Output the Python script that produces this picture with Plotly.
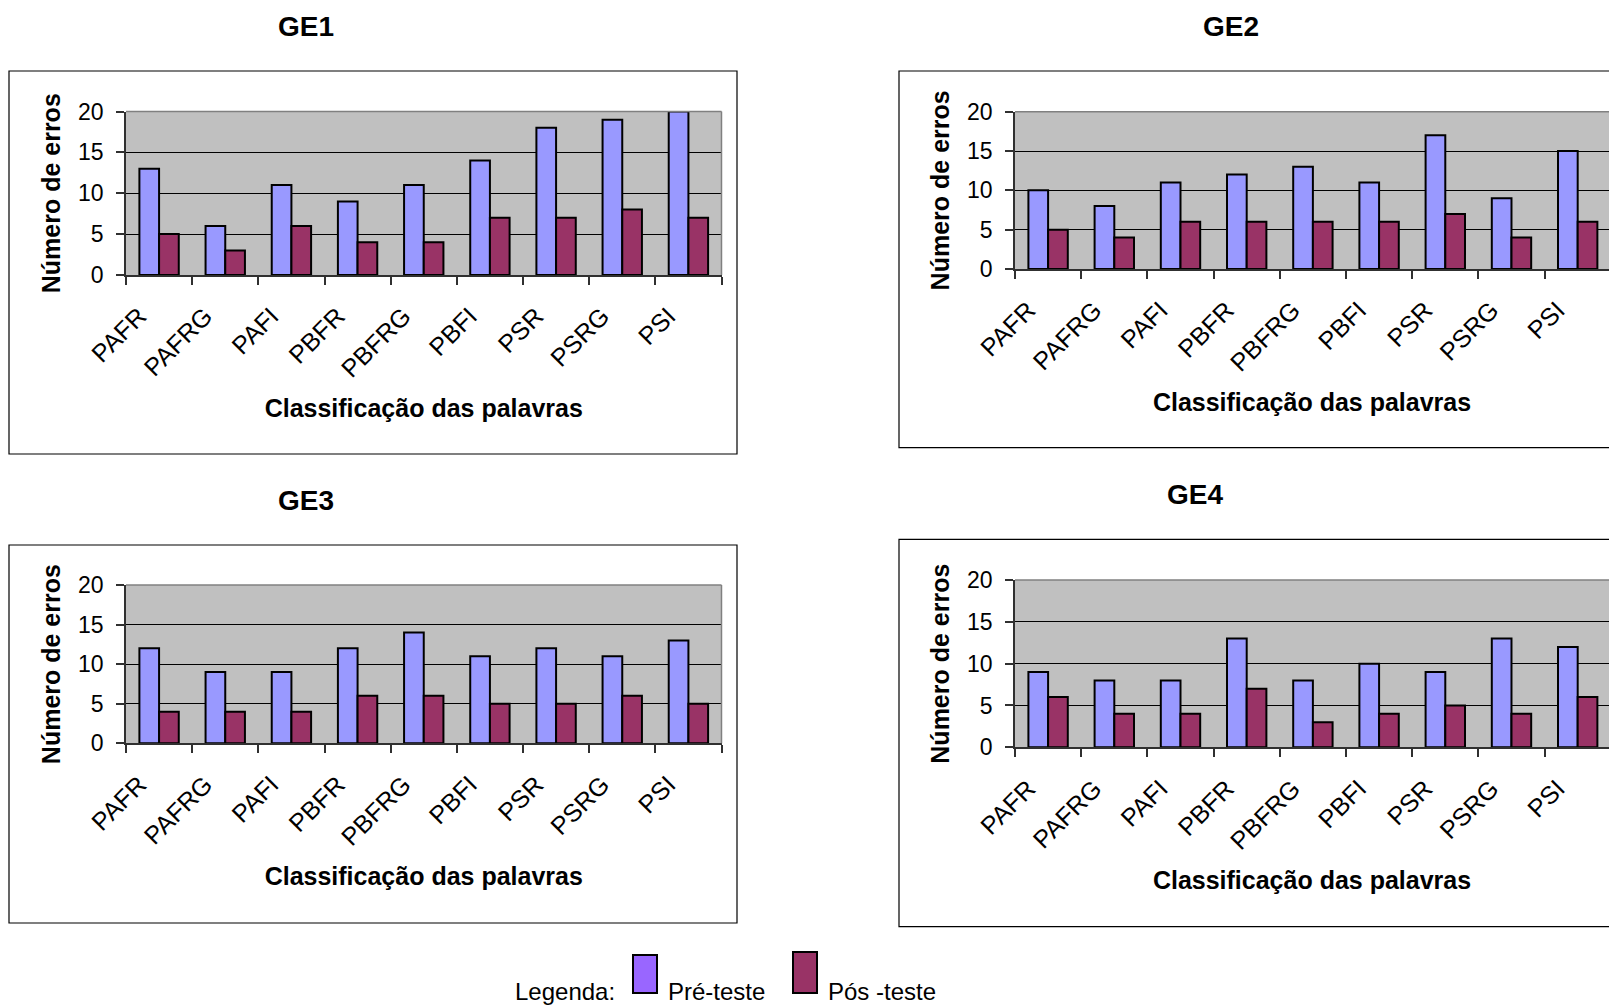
import plotly.graph_objects as go

categorias = ["PAFR", "PAFRG", "PAFI", "PBFR", "PBFRG", "PBFI", "PSR", "PSRG", "PSI"]

ge1_pre = [13, 6, 11, 9, 11, 14, 18, 19, 20]
ge1_pos = [5, 3, 6, 4, 4, 7, 7, 8, 7]
ge2_pre = [10, 8, 11, 12, 13, 11, 17, 9, 15]
ge2_pos = [5, 4, 6, 6, 6, 6, 7, 4, 6]
ge3_pre = [12, 9, 9, 12, 14, 11, 12, 11, 13]
ge3_pos = [4, 4, 4, 6, 6, 5, 5, 6, 5]
ge4_pre = [9, 8, 8, 13, 8, 10, 9, 13, 12]
ge4_pos = [6, 4, 4, 7, 3, 4, 5, 4, 6]

y_ticks = [0, 5, 10, 15, 20]
titulos = ["GE1", "GE2", "GE3", "GE4"]

W, H = 1609, 1005
FONT = "Liberation Sans, Arial, sans-serif"
PRE_COLOR = "#9999FF"
POS_COLOR = "#993366"


def px(a):
    return a / W


def py(a):
    return 1 - a / H


panels = [
    # (pre, pos, x0, x1, ytop, ybot, xrange_end, frame, title_xy)
    (ge1_pre, ge1_pos, 126, 721.5, 111.5, 275, 8.5, (9, 71, 737, 454), (306, 27)),
    (ge2_pre, ge2_pos, 1015, 1609, 111.7, 269, 8.473, (899, 71, 1625, 447.7), (1231, 27)),
    (ge3_pre, ge3_pos, 126, 721.5, 585, 743.3, 8.5, (9, 545, 737, 923), (306, 501)),
    (ge4_pre, ge4_pos, 1015, 1609, 580, 747.3, 8.473, (899, 539.3, 1625, 926.7), (1195, 494)),
]

fig = go.Figure()
shapes = []
annotations = []
layout_axes = {}

for i, (pre, pos, x0, x1, yt, yb, xend, frame, tpos) in enumerate(panels):
    n = i + 1
    xa = "x" if n == 1 else f"x{n}"
    ya = "y" if n == 1 else f"y{n}"
    fig.add_trace(go.Bar(x=categorias, y=pre, name="Pré-teste", xaxis=xa, yaxis=ya,
                         marker=dict(color=PRE_COLOR, line=dict(color="black", width=2)),
                         showlegend=False))
    fig.add_trace(go.Bar(x=categorias, y=pos, name="Pós -teste", xaxis=xa, yaxis=ya,
                         marker=dict(color=POS_COLOR, line=dict(color="black", width=2)),
                         showlegend=False))
    xkey = "xaxis" if n == 1 else f"xaxis{n}"
    ykey = "yaxis" if n == 1 else f"yaxis{n}"
    layout_axes[xkey] = dict(
        domain=[px(x0), px(x1)], anchor=ya, type="category", automargin=False,
        range=[-0.5, xend], showgrid=False, zeroline=False,
        showline=True, linecolor="#303030", linewidth=1.5,
        ticks="outside", tickson="boundaries", ticklen=8, tickcolor="#303030", tickwidth=1.5,
        tickangle=-45, tickfont=dict(family=FONT, size=25, color="black"),
        ticklabelstandoff=15, ticklabelshift=-20,
        title=dict(text="<b>Classificação das palavras</b>",
                   font=dict(family=FONT, size=25, color="black"), standoff=18),
        fixedrange=True,
    )
    layout_axes[ykey] = dict(
        domain=[py(yb), py(yt)], anchor=xa, range=[0, 20], tickvals=y_ticks, automargin=False,
        showgrid=True, gridcolor="black", gridwidth=1, zeroline=False,
        showline=True, linecolor="#303030", linewidth=1.5,
        ticks="outside", ticklen=8, tickcolor="#303030", tickwidth=1.5,
        tickfont=dict(family=FONT, size=23, color="black"),
        ticklabelstandoff=8,
        title=dict(text="<b>Número de erros</b>",
                   font=dict(family=FONT, size=25, color="black"), standoff=10),
        fixedrange=True,
    )
    # plot-area border (gray)
    shapes.append(dict(type="line", xref=f"{xa} domain", yref=f"{ya} domain",
                       x0=0, x1=1, y0=1, y1=1, line=dict(color="#808080", width=1.5),
                       layer="above"))
    if xend >= 8.5:
        shapes.append(dict(type="line", xref=f"{xa} domain", yref=f"{ya} domain",
                           x0=1, x1=1, y0=0, y1=1, line=dict(color="#808080", width=1.5),
                           layer="above"))
    # chart frame
    fx0, fy0, fx1, fy1 = frame
    shapes.append(dict(type="rect", xref="paper", yref="paper",
                       x0=px(fx0), x1=px(fx1), y0=py(fy1), y1=py(fy0),
                       line=dict(color="black", width=1.2), layer="below"))
    annotations.append(dict(text=f"<b>{titulos[i]}</b>", xref="paper", yref="paper",
                            x=px(tpos[0]), y=py(tpos[1]), xanchor="center", yanchor="middle",
                            showarrow=False, font=dict(family=FONT, size=28, color="black")))

# legend (drawn manually, as in the original)
shapes.append(dict(type="rect", xref="paper", yref="paper", x0=px(633), x1=px(657),
                   y0=py(993), y1=py(955), fillcolor="#9966FF", line=dict(color="black", width=2)))
shapes.append(dict(type="rect", xref="paper", yref="paper", x0=px(793), x1=px(817),
                   y0=py(993), y1=py(952), fillcolor="#993366", line=dict(color="black", width=2)))
for txt, x, anchor in [("Legenda:", 617, "right"), ("Pré-teste", 666, "left"), ("Pós -teste", 826, "left")]:
    annotations.append(dict(text=txt, xref="paper", yref="paper", x=px(x), y=py(991),
                            xanchor=anchor, yanchor="middle", showarrow=False,
                            font=dict(family=FONT, size=24, color="black")))

fig.update_layout(
    width=W, height=H, autosize=False,
    margin=dict(l=0, r=0, t=0, b=0, autoexpand=False),
    paper_bgcolor="white", plot_bgcolor="#C0C0C0",
    barmode="group", bargap=0.405, bargroupgap=0,
    shapes=shapes, annotations=annotations,
    font=dict(family=FONT, color="black"),
    **layout_axes,
)

fig.write_html("out.html", config={"displayModeBar": False},
               post_script="document.body.style.margin='0';document.body.style.overflow='hidden';")
